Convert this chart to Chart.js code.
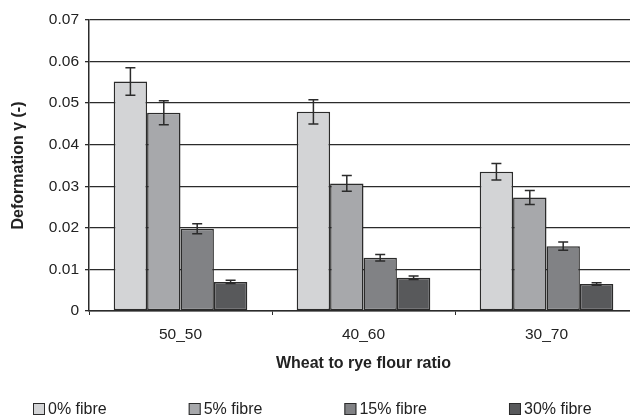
<!DOCTYPE html>
<html lang="en">
<head>
    <meta charset="UTF-8">
    <title>Deformation by flour ratio</title>
    <script src="https://cdn.jsdelivr.net/npm/chart.js"></script>
    <style>
        html, body {
            margin: 0;
            padding: 0;
            background: #fff;
        }
        .wrap {
            width: 630px;
            height: 416px;
            overflow: hidden;
        }
    </style>
</head>
<body>
    <div class="wrap">
        <canvas id="deformChart" width="640" height="416"></canvas>
    </div>

    <script>
        // data
        const ratios = ['50_50', '40_60', '30_70'];
        const fibreLabels = ['0% fibre', '5% fibre', '15% fibre', '30% fibre'];
        const fibre0 = [0.0552, 0.0479, 0.0335];
        const fibre5 = [0.0477, 0.0307, 0.0273];
        const fibre15 = [0.0198, 0.0128, 0.0156];
        const fibre30 = [0.0070, 0.0080, 0.0065];
        const err0 = [0.0033, 0.0029, 0.0020];
        const err5 = [0.0029, 0.0019, 0.0017];
        const err15 = [0.0012, 0.0008, 0.0010];
        const err30 = [0.0004, 0.0004, 0.0003];
        const yTicks = [0, 0.01, 0.02, 0.03, 0.04, 0.05, 0.06, 0.07];

        const colors = ['#d3d4d6', '#a7a8ab', '#818285', '#58595b'];
        const ink = '#2b2b2b';
        const fontFamily = '"Liberation Sans", Arial, sans-serif';

        const values = [fibre0, fibre5, fibre15, fibre30];
        const errors = [err0, err5, err15, err30];

        // error bars drawn from the y scale
        const errorBars = {
            id: 'errorBars',
            afterDatasetsDraw(chart) {
                const ctx = chart.ctx;
                const y = chart.scales.y;
                ctx.save();
                ctx.strokeStyle = ink;
                ctx.lineWidth = 1.5;
                chart.data.datasets.forEach((ds, d) => {
                    const meta = chart.getDatasetMeta(d);
                    meta.data.forEach((bar, i) => {
                        const v = ds.data[i];
                        const e = ds.errors[i];
                        const top = y.getPixelForValue(v + e);
                        const bot = y.getPixelForValue(v - e);
                        ctx.beginPath();
                        ctx.moveTo(bar.x, top);
                        ctx.lineTo(bar.x, bot);
                        ctx.moveTo(bar.x - 5, top);
                        ctx.lineTo(bar.x + 5, top);
                        ctx.moveTo(bar.x - 5, bot);
                        ctx.lineTo(bar.x + 5, bot);
                        ctx.stroke();
                    });
                });
                ctx.restore();
            }
        };

        // legend spread along the bottom like the original
        const bottomLegend = {
            id: 'bottomLegend',
            afterDraw(chart) {
                const ctx = chart.ctx;
                ctx.save();
                ctx.font = '16px ' + fontFamily;
                ctx.textBaseline = 'middle';
                let x = 33;
                const yMid = 409;
                chart.data.datasets.forEach(ds => {
                    ctx.fillStyle = ds.backgroundColor;
                    ctx.fillRect(x, yMid - 6, 12, 12);
                    ctx.strokeStyle = ink;
                    ctx.lineWidth = 1;
                    ctx.strokeRect(x + 0.5, yMid - 5.5, 11, 11);
                    ctx.fillStyle = '#222';
                    ctx.fillText(ds.label, x + 15, yMid + 1);
                    x += 15 + ctx.measureText(ds.label).width + 82;
                });
                ctx.restore();
            }
        };

        new Chart(document.getElementById('deformChart'), {
            type: 'bar',
            data: {
                labels: ratios,
                datasets: fibreLabels.map((label, k) => ({
                    label: label,
                    data: values[k],
                    errors: errors[k],
                    backgroundColor: colors[k],
                    borderColor: ink,
                    borderWidth: 1.5,
                    borderSkipped: false
                }))
            },
            options: {
                responsive: false,
                devicePixelRatio: 1,
                animation: false,
                layout: {
                    padding: { top: 20, right: 2, bottom: 43, left: 0 }
                },
                datasets: {
                    bar: { categoryPercentage: 0.73, barPercentage: 1 }
                },
                plugins: {
                    legend: { display: false },
                    tooltip: { enabled: false }
                },
                scales: {
                    x: {
                        afterFit: s => { s.height = 62; },
                        grid: {
                            drawOnChartArea: false,
                            drawTicks: true,
                            tickLength: 4,
                            color: ink,
                            lineWidth: 1
                        },
                        border: { color: ink, width: 1.5 },
                        ticks: {
                            color: '#222',
                            padding: 10,
                            font: { family: fontFamily, size: 15.5 }
                        },
                        title: {
                            display: true,
                            text: 'Wheat to rye flour ratio',
                            color: '#222',
                            padding: { top: 0, bottom: 0 },
                            font: { family: fontFamily, size: 16, weight: 'bold' }
                        }
                    },
                    y: {
                        min: 0,
                        max: 0.07,
                        afterFit: s => { s.width = 89; },
                        afterBuildTicks: s => { s.ticks = yTicks.map(v => ({ value: v })); },
                        grid: {
                            color: ink,
                            lineWidth: 1.3,
                            drawTicks: true,
                            tickLength: 4
                        },
                        border: { color: ink, width: 1.5 },
                        ticks: {
                            color: '#222',
                            padding: 6,
                            font: { family: fontFamily, size: 15.5 },
                            callback: v => v === 0 ? '0' : v.toFixed(2)
                        },
                        title: {
                            display: true,
                            text: 'Deformation γ (-)',
                            color: '#222',
                            padding: { top: 9, bottom: 0 },
                            font: { family: fontFamily, size: 16, weight: 'bold' }
                        }
                    }
                }
            },
            plugins: [errorBars, bottomLegend]
        });
    </script>
</body>
</html>
